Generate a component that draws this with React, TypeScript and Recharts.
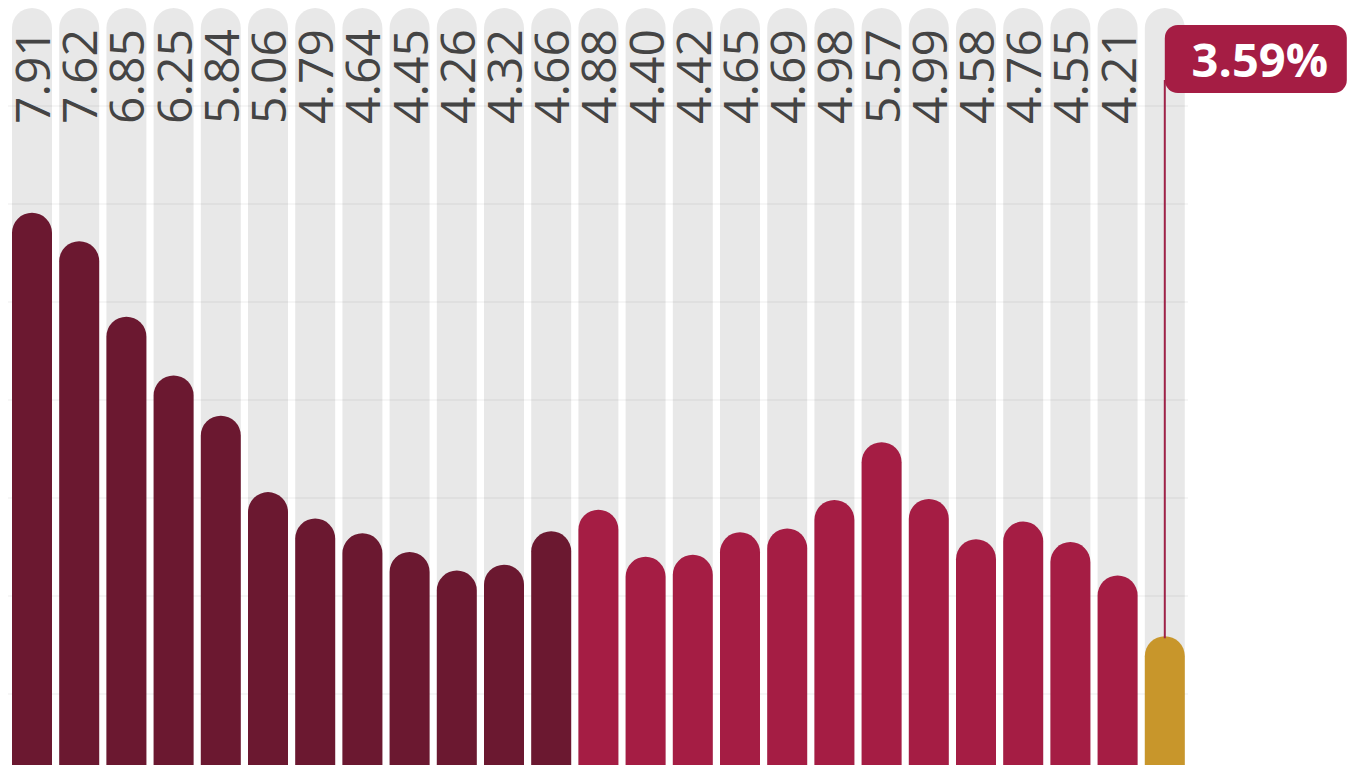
import { BarChart, Bar, XAxis, YAxis, CartesianGrid, Cell, LabelList } from "recharts";

// rate per period, oldest first; the last one is the current reading
const values = [
  7.91, 7.62, 6.85, 6.25, 5.84, 5.06, 4.79, 4.64, 4.45, 4.26, 4.32, 4.66,
  4.88, 4.4, 4.42, 4.65, 4.69, 4.98, 5.57, 4.99, 4.58, 4.76, 4.55, 4.21,
  3.59,
];
const groups = [
  "past", "past", "past", "past", "past", "past", "past", "past", "past", "past", "past", "past",
  "recent", "recent", "recent", "recent", "recent", "recent", "recent", "recent", "recent", "recent", "recent", "recent",
  "current",
];
const yTicks = [0, 1, 2, 3, 4, 5, 6, 7, 8, 9, 10];
const gridValues = [1, 2, 3, 4, 5, 6, 7, 8, 9];

const colors: Record<string, string> = {
  past: "#6b1830",
  recent: "#a51d44",
  current: "#c8962b",
};

const data = values.map((value, i) => ({ key: String(i + 1), value, group: groups[i] }));

const LABEL_BOTTOM = 124;
const font = "'Open Sans', 'DejaVu Sans', sans-serif";

function ValueLabel(props: any) {
  const { x, y, width, index, value } = props;
  const cx = x + width / 2;
  if (index === values.length - 1) {
    // callout for the latest value
    return (
      <g>
        <line x1={cx} y1={80} x2={cx} y2={y + 2} stroke="#9e2248" strokeWidth={2} />
        <rect x={cx} y={25} width={182} height={68} rx={13} fill="#a51d44" />
        <text
          x={cx + 95}
          y={77}
          textAnchor="middle"
          fill="#ffffff"
          fontSize={47}
          fontWeight={700}
          fontFamily={font}
        >
          {value.toFixed(2)}%
        </text>
      </g>
    );
  }
  const bx = cx + 18;
  return (
    <text
      x={bx}
      y={LABEL_BOTTOM}
      transform={`rotate(-90, ${bx}, ${LABEL_BOTTOM})`}
      textAnchor="start"
      fill="#444444"
      fontSize={48}
      fontFamily={font}
    >
      {value.toFixed(2)}
    </text>
  );
}

export default function App() {
  return (
    <div
      style={{
        position: "absolute",
        left: 0,
        top: 0,
        width: 1347,
        height: 765,
        overflow: "hidden",
        background: "#ffffff",
      }}
    >
      <BarChart
        width={1347}
        height={1000}
        data={data}
        margin={{ top: 8, right: 159, left: 8, bottom: 12 }}
      >
        <CartesianGrid vertical={false} horizontalValues={gridValues} stroke="#f3f3f3" strokeWidth={1.5} />
        <XAxis dataKey="key" hide />
        <YAxis hide domain={[0, 10]} ticks={yTicks} />
        <Bar
          dataKey="value"
          barSize={40}
          radius={[20, 20, 0, 0]}
          background={{ fill: "rgba(0,0,0,0.09)", radius: [20, 20, 0, 0] }}
          isAnimationActive={false}
        >
          {data.map((d) => (
            <Cell key={d.key} fill={colors[d.group]} />
          ))}
          <LabelList dataKey="value" content={<ValueLabel />} />
        </Bar>
      </BarChart>
    </div>
  );
}
